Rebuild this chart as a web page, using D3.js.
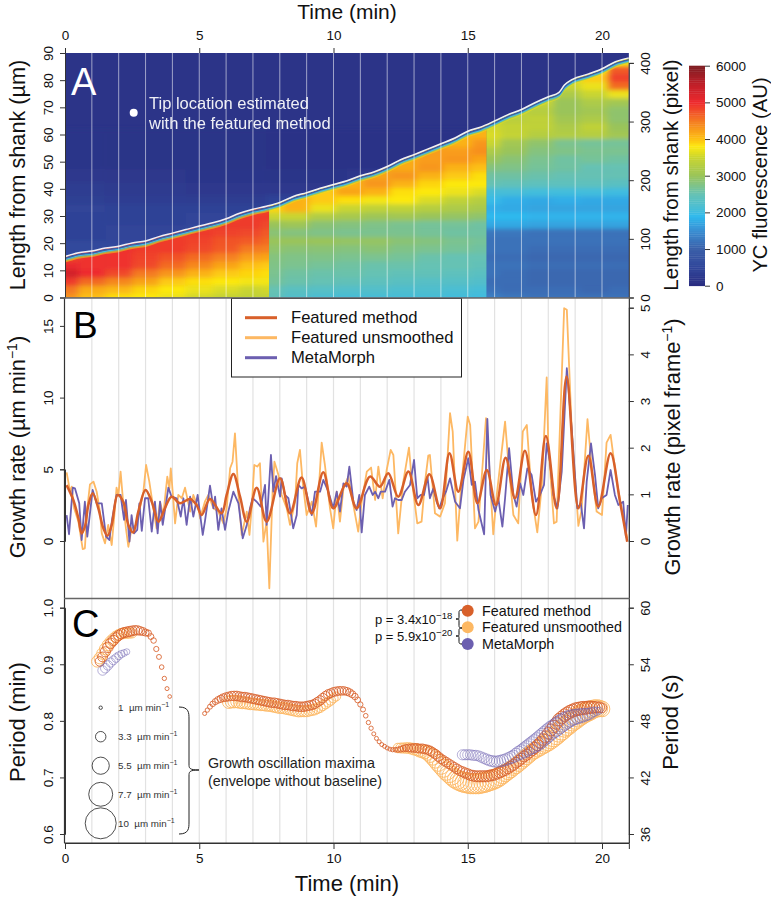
<!DOCTYPE html>
<html><head><meta charset="utf-8">
<script src="https://cdn.jsdelivr.net/npm/d3@7"></script>
<style>html,body{margin:0;background:#fff}svg{display:block;font-family:"Liberation Sans",Arial,sans-serif}</style>
</head><body><svg id="c" width="771" height="898"></svg>
<script>
// ---------- Panel A data ----------
const tipTime=[0,.5,1,1.5,2,2.5,3,3.5,4,4.5,5,5.5,6,6.5,7,7.5,8,8.5,9,9.5,10,10.5,11,11.5,12,12.5,13,13.5,14,14.5,15,15.5,16,16.5,17,17.5,18,18.4,18.6,18.9,19.5,20,20.5,21];
const tipLength=[15.1,16.5,17.1,18.2,18.9,20.1,20.8,22.4,23.7,25,26.3,27.5,29,31,32.5,33.6,35,37.2,38.6,40.2,41.6,43,44.8,46.2,48.2,50.7,52.6,54.6,56.6,58.6,61.2,62.8,65,67.3,69.2,71.7,73.9,75.5,78.2,80.3,82.3,84.2,86.8,88.2];
const colorStops=[0,500,1000,1500,1900,2000,2500,3000,3500,3800,4000,4500,5000,5500,6000];
const colorRamp=["#2a2c80","#30469a","#3a5fa8","#3a8ed2","#2eb9ee","#3fbce0","#66c2b4","#9ac45a","#c9d530","#fde910","#fdc012","#f47a22","#ee2a2e","#bf1e28","#7d1d22"];
const rowStep=3;
const earlyTimes=[0,1,2,3,4,5,6,7,7.6];
const earlyValues=[
[4300,4000,3850,3800,3700,3550,3450,3400,3400],
[4500,4150,4050,3900,3800,3700,3600,3500,3550],
[4900,4600,4400,4200,3950,3850,3800,3750,3750],
[5300,5000,4800,4500,4300,4100,3950,3900,3850],
[5050,4950,4950,4800,4600,4400,4200,4000,3950],
[4800,4950,4950,4850,4750,4600,4450,4250,4200],
[null,4950,4950,4900,4900,4800,4700,4500,4450],
[null,null,null,4900,4900,4850,4750,4700,4600],
[null,null,null,null,4800,4900,4850,4800,4700],
[null,null,null,null,null,4800,4900,4900,4800],
[null,null,null,null,null,null,4800,4900,4900],
[null,null,null,null,null,null,null,4700,4800]];
const midTimes=[7.6,8.6,9.6,10.6,11.6,12.6,13.6,14.6,15.7];
const midValues=[
[2450,2250,2150,2100,2100,2100,2100,2050,2000],
[2500,2350,2300,2250,2250,2200,2200,2150,2100],
[2650,2550,2500,2450,2400,2350,2300,2300,2250],
[2700,2600,2550,2550,2500,2450,2450,2400,2350],
[2750,2700,2650,2600,2550,2550,2500,2500,2450],
[2800,2750,2750,2700,2700,2650,2550,2500,2500],
[2900,2850,2850,2800,2850,2750,2700,2650,2600],
[3000,3000,3000,2950,2950,2850,2800,2700,2650],
[2850,2800,2750,2700,2700,2700,2650,2600,2600],
[3000,3050,2850,2800,2750,2700,2650,2650,2600],
[3500,3500,3250,3150,3050,3100,3000,2950,2900],
[3900,4100,3700,3500,3400,3400,3300,3200,3150],
[null,4100,3950,3850,3750,3800,3600,3400,3300],
[null,null,3950,4200,4100,3850,3800,3700,3600],
[null,null,null,4100,4300,4100,3900,3800,3800],
[null,null,null,null,4200,4300,4100,3950,3850],
[null,null,null,null,null,4150,4300,4100,4000],
[null,null,null,null,null,null,4250,4300,4200],
[null,null,null,null,null,null,null,4250,4350],
[null,null,null,null,null,null,null,4100,4300],
[null,null,null,null,null,null,null,null,4100]];
const lateTimes=[15.7,16.7,17.7,18.7,19.7,20.7];
const lateValues=[
[1350,1250,1200,1200,1200,1200],
[1200,1150,1150,1150,1100,1150],
[1150,1150,1100,1100,1100,1100],
[1200,1150,1100,1100,1100,1100],
[1200,1200,1150,1150,1150,1150],
[1150,1150,1100,1100,1100,1100],
[1200,1200,1150,1150,1150,1150],
[1200,1200,1200,1200,1200,1200],
[1250,1250,1200,1200,1200,1200],
[1750,1750,1700,1700,1700,1700],
[1900,1900,1850,1850,1850,1850],
[1800,1750,1700,1700,1700,1700],
[1950,1800,1750,1800,1750,1750],
[2100,2100,2050,2050,2050,2000],
[2500,2450,2400,2400,2400,2350],
[2600,2600,2550,2500,2500,2500],
[2800,2750,2650,2600,2500,2500],
[3000,2850,2700,2600,2650,2600],
[3200,3000,2800,2750,2700,2700],
[3500,3100,2900,2700,2650,2650],
[3600,3450,3300,3250,3300,3100],
[3550,3450,3400,3200,3400,3000],
[null,3350,3400,3100,3200,2900],
[null,3450,3300,3000,3100,2900],
[null,null,3450,3000,3200,3100],
[null,null,3550,3200,3500,3700],
[null,null,3650,3500,3700,4600],
[null,null,null,3650,3950,4850],
[null,null,null,3750,3800,4700],
[null,null,null,null,3550,3800]];
const haloTimes=[0,3,6,9,12,21];
const haloRows=[12,18,24,30,33,36,40,45,50];
const haloValues=[
[600,600,600,600,600,600],
[560,560,600,600,600,600],
[450,480,560,600,600,600],
[440,430,480,560,600,600],
[470,430,420,500,600,600],
[370,340,320,420,540,600],
[320,290,250,250,400,500],
[250,230,200,170,240,300],
[170,160,150,140,140,150]];
const colorbarTicks=[0,1000,2000,3000,4000,5000,6000];
const tipLegendLines=["Tip location estimated","with the featured method"];

// ---------- Panel B data ----------
const smoothTime=[.06,.31,.5,.62,.74,.87,1.03,1.24,1.43,1.58,1.74,1.96,2.17,2.36,2.54,2.73,3,3.23,3.48,3.72,3.97,4.28,4.66,4.9,5.09,5.4,5.83,6.02,6.27,6.52,6.77,7.14,7.51,8.01,8.38,8.81,9.19,9.62,9.99,10.49,10.86,11.36,11.73,12.04,12.41,12.79,13.16,13.57,13.97,14.32,14.65,15.02,15.36,15.71,16.05,16.41,16.76,17.13,17.54,17.91,18.31,18.68,19.12,19.49,19.86,20.32,20.67,20.94];
const smoothRate=[3.9,2.86,1.58,.53,1,2.5,3.33,2.28,.88,.37,1.12,3.21,2.74,1.12,.6,2.05,3.56,2.74,1.35,2.28,3.09,2.63,2.93,2.51,1.81,2.93,1.93,3.21,4.67,3.09,1.35,3.72,1.35,4.37,1.93,4.42,1.93,4.79,2.28,4.02,2.28,4.49,3.79,4.72,3.09,4.84,2.51,4.65,2.28,6.12,3.44,6.23,2.63,4.95,2.51,5.81,2.98,6.3,1.81,7.33,2.28,11.47,2.28,5.95,2.4,6.12,2.74,-.05];
const rawTime=[.06,.19,.25,.34,.5,.66,.74,.83,.93,1.06,1.18,1.3,1.37,1.49,1.61,1.74,1.86,1.92,1.99,2.07,2.17,2.27,2.36,2.48,2.64,2.79,2.92,3.02,3.14,3.29,3.41,3.54,3.66,3.81,3.89,3.94,4.03,4.1,4.22,4.35,4.47,4.66,4.78,4.97,5.03,5.21,5.34,5.53,5.71,5.9,6.02,6.15,6.24,6.33,6.46,6.58,6.77,6.87,6.95,7.05,7.16,7.26,7.39,7.51,7.61,7.73,7.8,7.95,8.07,8.26,8.38,8.57,8.65,8.75,8.85,9,9.19,9.35,9.47,9.56,9.68,9.87,9.99,10.12,10.24,10.37,10.55,10.74,10.92,11.05,11.24,11.4,11.55,11.67,11.83,11.98,12.13,12.23,12.41,12.6,12.81,12.91,13.12,13.28,13.41,13.53,13.59,13.78,13.97,14.15,14.34,14.44,14.61,14.74,15,15.09,15.27,15.4,15.68,15.79,15.95,16.08,16.39,16.51,16.7,16.88,17.05,17.2,17.38,17.59,17.76,17.94,18,18.21,18.31,18.59,18.69,18.87,19.12,19.24,19.46,19.62,19.8,20,20.17,20.32,20.55,20.73,20.94];
const rawRate=[4.79,3.44,3.79,2.28,1.35,-.56,-.51,2.28,3.95,4.14,3.44,2.05,.53,-.16,1.12,-.28,2.28,3.72,3.21,4.84,2.63,.88,-.4,.88,1.12,2.28,3.44,5.3,4.14,2.28,.88,2.74,1.81,4.49,3.67,5.07,2.98,1.23,3.21,2.98,3.72,2.05,3.21,2.28,1.58,2.74,3.21,2.28,2.05,1.23,2.28,5.07,5.53,7.51,3.21,.42,2.05,.42,2.28,5.3,5.19,5.42,-.05,1.35,-3.3,3.44,5.53,4.6,3.21,2.28,1.12,2.74,5.42,6.35,4.14,1.81,2.74,1,4.14,6.86,5.3,2.28,.88,3.44,1.35,3.67,4.49,2.51,.65,2.74,4.84,5.12,2.86,5.19,2.98,4.95,6.35,6,.53,4.14,6.51,4.37,1.23,1.35,4.14,5.95,6,1.93,1.7,2.63,8.91,7.63,.02,3.44,8.67,8.09,.88,1.35,8.56,5.53,.47,3.21,8.33,5.53,1.81,1.23,7.63,8.09,3.21,.6,3.91,11.4,6.7,1.23,1.35,16.23,16.12,7.86,1.05,2.16,8.49,5.07,2.05,1.81,6.86,7.4,4.14,2.28,.19];
const metaTime=[.06,.15,.29,.37,.53,.62,.74,.83,1.03,1.18,1.37,1.53,1.65,1.76,1.92,2.07,2.2,2.27,2.4,2.48,2.57,2.69,2.77,2.86,2.98,3.1,3.23,3.35,3.45,3.54,3.64,3.85,3.97,4.16,4.31,4.41,4.53,4.66,4.78,4.94,5.13,5.21,5.4,5.53,5.59,5.71,5.83,5.96,6.08,6.27,6.46,6.62,6.77,6.89,6.99,7.14,7.29,7.45,7.51,7.67,7.76,7.86,8.01,8.07,8.19,8.32,8.5,8.63,8.69,8.81,8.94,9.07,9.19,9.31,9.5,9.62,9.81,9.99,10.12,10.24,10.37,10.49,10.59,10.74,10.86,10.96,11.05,11.17,11.33,11.46,11.55,11.67,11.76,11.92,12.08,12.2,12.29,12.41,12.54,12.66,12.85,13,13.12,13.25,13.37,13.5,13.59,13.72,13.84,13.94,14.07,14.19,14.34,14.53,14.71,14.84,15.02,15.15,15.27,15.4,15.61,15.73,15.85,16.02,16.14,16.29,16.39,16.54,16.7,16.82,16.95,17.07,17.22,17.38,17.54,17.69,17.84,17.94,18.06,18.19,18.34,18.5,18.69,18.87,19.08,19.21,19.33,19.43,19.59,19.74,19.86,19.99,20.17,20.32,20.48,20.61,20.79,20.89,20.96];
const metaRate=[1.81,.47,3.72,3.67,2.63,.07,2.74,.3,3.56,2.63,2.63,.3,.07,1.58,3.21,3.21,1.47,2.86,-.05,1.81,.53,.77,2.63,.7,2.98,2.98,.65,2.74,.53,2.74,1.12,3.72,3.09,2.98,1.7,2.98,1.12,3.09,1.7,3.21,.42,1.35,3.86,2.28,3.09,.77,2.28,.77,2.05,3.44,2.63,.19,1.12,2.28,2.98,2.74,2.4,3.91,1.12,6,3.44,4.53,3.09,4.37,3.21,2.98,.88,1.81,3.91,3.67,3.79,2.74,1.81,3.44,3.44,4.26,3.44,2.28,3.44,2.05,4.02,3.79,5.19,2.74,2.16,3.21,.6,3.21,3.79,3.21,3.44,2.98,3.44,3.44,4.26,2.4,2.98,2.86,2.86,3.44,3.91,5.65,2.98,3.21,3.21,4.49,2.98,3.67,2.74,2.28,2.98,3.44,4.37,2.74,2.28,4.26,5.77,3.91,4.14,2.16,.47,8.51,3.21,2.05,2.98,1,2.98,6.47,3.21,2.4,4.02,3.21,5.07,4.6,2.74,3.21,3.91,6.81,5.53,3.21,2.28,4.84,12.05,7.86,2.28,2.63,.88,4.14,6.81,4.6,2.28,2.98,3.21,4.95,3.21,2.51,2.74,.3,2.51];
const legendB=["Featured method","Featured unsmoothed","MetaMorph"];

// ---------- Panel C data (one value every 0.1 min from each start time) ----------
const featStart1=1.3;
const featPeriod1=[.905,.913,.922,.93,.937,.942,.947,.951,.954,.956,.957,.958,.959,.96,.96,.959,.958,.956,.955,.949,.942,.927,.913,.895,.875,.857,.843];
const featAmp1=[3,3.1,3.2,3.3,3.3,3.3,3.2,3.2,3.2,3.2,3.2,3.2,3.1,3,2.9,2.7,2.5,2.2,2,1.8,1.7,1.6,1.5,1.4,1.3,1.2,1.1];
const featStart2=5.2;
const featPeriod2=[.813,.819,.825,.83,.834,.837,.839,.841,.842,.843,.844,.844,.844,.843,.842,.842,.841,.84,.839,.838,.837,.836,.835,.834,.833,.832,.832,.831,.83,.829,.828,.828,.827,.826,.826,.825,.825,.825,.826,.827,.828,.83,.833,.836,.84,.844,.847,.849,.851,.852,.853,.853,.853,.852,.85,.847,.843,.837,.829,.82,.809,.797,.787,.777,.769,.763,.758,.755,.752,.75,.749,.749,.749,.75,.751,.752,.752,.752,.752,.752,.751,.751,.75,.749,.747,.744,.741,.737,.733,.73,.727,.724,.721,.718,.715,.712,.71,.708,.706,.704,.703,.702,.702,.702,.702,.702,.703,.704,.705,.707,.709,.711,.713,.716,.719,.722,.726,.729,.733,.737,.74,.744,.748,.752,.757,.762,.767,.772,.778,.784,.79,.796,.802,.806,.81,.813,.816,.818,.82,.821,.822,.823,.823,.824,.824,.824,.824,.824,.823];
const featAmp2=[1.2,1.3,1.5,1.7,1.9,2.1,2.3,2.5,2.7,2.8,2.9,3,3,3,3,3,3,3,3,3,3,3,3,3,3,3,3,3,3,3,3,3,3,3,3,3,3,3,3,3,3,3,3,3,3,2.9,2.9,2.8,2.8,2.8,2.7,2.7,2.6,2.5,2.4,2.2,2,1.8,1.6,1.5,1.4,1.3,1.3,1.2,1.2,1.2,1.2,1.2,1.2,1.2,1.3,1.4,1.6,1.8,2,2.2,2.4,2.6,2.7,2.8,2.8,2.9,2.9,2.9,3,3,3,3,3,3,3,3,3,3,3.1,3.1,3.2,3.2,3.3,3.3,3.4,3.4,3.5,3.5,3.5,3.5,3.5,3.5,3.5,3.5,3.5,3.4,3.4,3.4,3.4,3.4,3.4,3.4,3.4,3.4,3.4,3.4,3.5,3.5,3.5,3.6,3.6,3.7,3.7,3.8,3.9,3.9,4,4,4,4.1,4.1,4.1,4.2,4.2,4.2,4.1,4.1,4,3.9,3.7,3.5,3.3,3];
const rawStart1=1.2;
const rawPeriod1=[.905,.911,.919,.927,.934,.94,.945,.949,.952,.954,.955,.955,.955,.955];
const rawAmp1=[3.6,3.7,3.7,3.7,3.7,3.6,3.5,3.5,3.4,3.4,3.3,3.3,3.2,3];
const rawStart2=6.1;
const rawPeriod2=[.833,.834,.834,.834,.833,.832,.832,.831,.83,.83,.829,.829,.828,.828,.827,.827,.826,.825,.824,.823,.823,.822,.821,.82,.819,.818,.817,.817,.817,.817,.818,.819,.82,.822,.824,.827,.83,.833,.836,.84,.843];
const rawAmp2=[4,4,4,3.9,3.9,3.8,3.8,3.7,3.7,3.7,3.6,3.6,3.6,3.6,3.6,3.6,3.6,3.6,3.6,3.6,3.6,3.6,3.6,3.6,3.6,3.6,3.6,3.5,3.5,3.5,3.4,3.4,3.4,3.3,3.3,3.2,3.2,3.1,3,2.9,2.8];
const rawStart3=12.4;
const rawPeriod3=[.752,.752,.752,.752,.752,.751,.75,.749,.747,.746,.745,.743,.74,.736,.731,.726,.721,.716,.711,.707,.703,.699,.696,.694,.692,.691,.69,.689,.689,.689,.689,.69,.691,.692,.694,.695,.697,.699,.702,.705,.708,.711,.714,.718,.721,.725,.729,.733,.737,.741,.745,.748,.751,.754,.757,.76,.763,.767,.771,.775,.78,.784,.789,.792,.796,.8,.803,.807,.81,.813,.815,.817,.819,.821,.822,.822,.821];
const rawAmp3=[3,3.1,3.2,3.3,3.4,3.5,3.7,3.8,3.9,4.1,4.3,4.6,4.9,5.2,5.3,5.5,5.6,5.7,5.8,5.9,6,6.1,6.2,6.3,6.4,6.5,6.5,6.5,6.5,6.5,6.5,6.5,6.5,6.4,6.4,6.3,6.2,6.1,6,5.8,5.6,5.4,5.3,5.2,5.2,5.2,5.2,5.2,5.2,5.2,5.2,5.3,5.4,5.5,5.6,5.7,5.8,6,6.1,6.2,6.4,6.5,6.5,6.5,6.5,6.5,6.5,6.5,6.5,6.4,6.3,6.2,6,5.8,5.6,5.3,5];
const metaStart1=1.4;
const metaPeriod1=[.889,.893,.898,.903,.907,.911,.915,.918,.92,.922];
const metaAmp1=[3,3,3,2.9,2.8,2.7,2.5,2.3,2.1,1.9];
const metaStart2=14.8;
const metaPeriod2=[.74,.74,.74,.74,.739,.739,.738,.736,.734,.732,.73,.729,.728,.728,.729,.73,.731,.733,.735,.737,.74,.743,.745,.748,.751,.754,.757,.76,.763,.767,.771,.775,.779,.783,.786,.789,.793,.796,.799,.802,.804,.806,.807,.808,.809,.81,.811,.812,.814,.816,.817,.818];
const metaAmp2=[3.2,3.2,3.2,3.2,3.2,3.2,3.2,3.3,3.3,3.4,3.4,3.5,3.5,3.6,3.6,3.7,3.8,3.8,3.9,4,4.2,4.4,4.6,4.8,5,5.2,5.4,5.6,5.8,5.8,5.8,5.8,5.8,5.8,5.8,5.8,5.8,5.7,5.6,5.5,5.3,5.1,4.9,4.7,4.5,4.3,4,3.7,3.4,3,2.6,2.2];
const sizeLegend=[1,3.3,5.5,7.7,10];
const sizeLegendLabel=["1  µm min","3.3  µm min","5.5  µm min","7.7  µm min","10  µm min"];
const pValues=[["p = 3.4x10","−18"],["p = 5.9x10","−20"]];
const xTicks=[0,5,10,15,20];
const minuteLines=d3.range(0,21);

// ---------- Scales ----------
const W=26.85, X0=65;
const x=d3.scaleLinear().domain([0,21]).range([X0,X0+21*W]);
const yA=d3.scaleLinear().domain([0,90]).range([297.5,53]);
const yApx=d3.scaleLinear().domain([0,400]).range([297.5,62.9]);
const yB=d3.scaleLinear().domain([0,5]).range([541,469.3]);
const yBpx=d3.scaleLinear().domain([0,5]).range([541,307.7]);
const yC=d3.scaleLinear().domain([.6,1]).range([834,607.7]);
const yCs=d3.scaleLinear().domain([36,60]).range([834,607.7]);
const color=d3.scaleLinear().domain(colorStops).range(colorRamp).clamp(true);
const cbar=d3.scaleLinear().domain([0,6000]).range([285.7,65.7]);
const rScale=d3.scaleLinear().domain([1,10]).range([1.7,15.5]);
const cFeat="#d8602a",cRaw="#fdb863",cMeta="#6c5fb0",axisC="#333";

const svg=d3.select("#c");
const defs=svg.append("defs");
defs.append("filter").attr("id","blur").attr("filterUnits","userSpaceOnUse").attr("x",-100).attr("y",-100).attr("width",1000).attr("height",600)
  .append("feGaussianBlur").attr("stdDeviation","3.5 2");
const panelLeft=x(0),panelRight=x(21);

// ---------- Panel A ----------
const gA=svg.append("g");
gA.append("rect").attr("x",panelLeft).attr("y",yA(90)).attr("width",panelRight-panelLeft).attr("height",yA(0)-yA(90)).attr("fill",color(150));
defs.append("clipPath").attr("id","clipA").append("rect").attr("x",panelLeft).attr("y",yA(90)).attr("width",panelRight-panelLeft).attr("height",yA(0)-yA(90));
const tipPts=tipTime.map((t,i)=>[t,tipLength[i]]);
const tipLine=d3.line().x(d=>x(d[0])).y(d=>yA(d[1])).curve(d3.curveMonotoneX);
const tipArea=d3.area().x(d=>x(d[0])).y0(yA(-20)).y1(d=>yA(d[1])).curve(d3.curveMonotoneX);
defs.append("clipPath").attr("id","clipTip").append("path").attr("d",tipArea(tipPts));

function drawGrid(parent,times,rowVals,values){
  const g=parent.append("g").attr("filter","url(#blur)");
  const cols=times.length;
  const filled=values.map(r=>r.slice());
  for(let r=1;r<filled.length;r++)for(let c=0;c<cols;c++) if(filled[r][c]==null) filled[r][c]=filled[r-1][c];
  const cells=[];
  filled.forEach((row,r)=>row.forEach((v,c)=>{
    const tl=c?(times[c-1]+times[c])/2:times[0]-4;
    const tr=c<cols-1?(times[c]+times[c+1])/2:times[c]+4;
    const rl=r?(rowVals[r-1]+rowVals[r])/2:rowVals[0]-12;
    const rt=r<filled.length-1?(rowVals[r]+rowVals[r+1])/2:rowVals[r]+12;
    cells.push({tl,tr,rl,rt,v});
  }));
  g.selectAll("rect").data(cells).join("rect")
    .attr("x",d=>x(d.tl)).attr("width",d=>x(d.tr)-x(d.tl)+.5)
    .attr("y",d=>yA(d.rt)).attr("height",d=>yA(d.rl)-yA(d.rt)+.5)
    .attr("fill",d=>color(d.v));
}
const inA=gA.append("g").attr("clip-path","url(#clipA)");
drawGrid(inA,haloTimes,haloRows,haloValues);
function regime(t0,t1,times,values){
  const id="reg"+String(t0).replace(".","_");
  defs.append("clipPath").attr("id",id).append("rect").attr("x",x(t0)).attr("y",0).attr("width",x(t1)-x(t0)+.3).attr("height",400);
  const g=inA.append("g").attr("clip-path",`url(#${id})`).append("g").attr("clip-path","url(#clipTip)");
  drawGrid(g,times,values.map((_,i)=>i*rowStep),values);
}
regime(0,7.6,earlyTimes,earlyValues);
regime(7.6,15.7,midTimes,midValues);
regime(15.7,21,lateTimes,lateValues);
// falloff of fluorescence just behind the tip
[[5.2,3700,.5,1.6],[4.2,3000,.8,1.4],[3.1,2000,1,1.5],[1.8,1000,1,1.6]].forEach(([dy,val,op,w])=>{
  inA.append("path").attr("d",tipLine(tipPts)).attr("transform",`translate(0,${dy})`)
    .attr("fill","none").attr("stroke",color(val)).attr("stroke-opacity",op).attr("stroke-width",w);
});
inA.append("path").attr("d",tipLine(tipPts)).attr("fill","none").attr("stroke","#eef0f8").attr("stroke-width",1.5);
gA.selectAll("line.m").data(minuteLines.slice(1)).join("line").attr("class","m")
  .attr("x1",d=>x(d)).attr("x2",d=>x(d)).attr("y1",yA(90)).attr("y2",yA(0))
  .attr("stroke","#fff").attr("stroke-opacity",.55).attr("stroke-width",1);
gA.append("circle").attr("cx",133.7).attr("cy",112.7).attr("r",4).attr("fill","#fff");
gA.selectAll("text.t").data(tipLegendLines).join("text").attr("class","t")
  .attr("x",149).attr("y",(d,i)=>109+i*20).attr("font-size",16.5).attr("fill","#fff").attr("opacity",.92).text(d=>d);
svg.append("text").attr("x",71).attr("y",95).attr("font-size",38).attr("fill","#fff").text("A");

// ---------- Panel B/C gridlines ----------
[[298.5,598],[599,843]].forEach(([a,b])=>{
  svg.append("g").selectAll("line").data(minuteLines.slice(1)).join("line")
    .attr("x1",d=>x(d)).attr("x2",d=>x(d)).attr("y1",a).attr("y2",b)
    .attr("stroke","#e2e2e2").attr("stroke-width",1.2);
});

// ---------- Panel B ----------
const lineB=d3.line().x(d=>x(d[0])).y(d=>yB(d[1]));
const zip=(a,b)=>a.map((v,i)=>[v,b[i]]);
svg.append("path").attr("d",lineB(zip(rawTime,rawRate))).attr("fill","none").attr("stroke",cRaw).attr("stroke-width",1.8).attr("stroke-linejoin","round");
svg.append("path").attr("d",lineB(zip(metaTime,metaRate))).attr("fill","none").attr("stroke",cMeta).attr("stroke-width",1.8).attr("stroke-linejoin","round");
svg.append("path").attr("d",lineB.curve(d3.curveCatmullRom)(zip(smoothTime,smoothRate))).attr("fill","none").attr("stroke",cFeat).attr("stroke-width",2.5);
svg.append("rect").attr("x",231.5).attr("y",298.5).attr("width",230).attr("height",78.5).attr("fill","#fff").attr("stroke","#222").attr("stroke-width",1);
legendB.forEach((s,i)=>{
  const yy=317.7+i*20;
  svg.append("line").attr("x1",245).attr("x2",277).attr("y1",yy).attr("y2",yy).attr("stroke",[cFeat,cRaw,cMeta][i]).attr("stroke-width",3);
  svg.append("text").attr("x",291).attr("y",yy+5.6).attr("font-size",16.6).attr("fill","#111").text(s);
});
svg.append("text").attr("x",73).attr("y",338).attr("font-size",37).attr("fill","#000").text("B");

// ---------- Panel C ----------
const gC=svg.append("g");
function rings(start,period,amp,col,op,sw){
  gC.append("g").selectAll("circle").data(period.map((p,i)=>({t:start+i*.1,p,a:amp[i]}))).join("circle")
    .attr("cx",d=>x(d.t)).attr("cy",d=>yC(d.p)).attr("r",d=>rScale(d.a))
    .attr("fill","none").attr("stroke",col).attr("stroke-opacity",op).attr("stroke-width",sw);
}
rings(rawStart1,rawPeriod1,rawAmp1,cRaw,1,.9);
rings(rawStart2,rawPeriod2,rawAmp2,cRaw,1,.9);
rings(rawStart3,rawPeriod3,rawAmp3,cRaw,1,.9);
rings(featStart1,featPeriod1,featAmp1,cFeat,1,.85);
rings(featStart2,featPeriod2,featAmp2,cFeat,1,.85);
rings(metaStart1,metaPeriod1,metaAmp1,cMeta,.7,.7);
rings(metaStart2,metaPeriod2,metaAmp2,cMeta,.7,.7);
const legY=[610.7,627.3,644];
legendB.forEach((s,i)=>{
  svg.append("circle").attr("cx",467.7).attr("cy",legY[i]).attr("r",6).attr("fill",[cFeat,cRaw,cMeta][i]);
  svg.append("text").attr("x",482).attr("y",legY[i]+5).attr("font-size",14.3).attr("fill","#111").text(s);
});
pValues.forEach((p,i)=>{
  const t=svg.append("text").attr("x",375).attr("y",624.3+i*16.7).attr("font-size",13).attr("fill","#111");
  t.append("tspan").text(p[0]);
  t.append("tspan").attr("dy",-5).attr("font-size",9.5).text(p[1]);
});
function brace(xa,xb,y0,ym,y1){ // vertical curly brace from y0 to y1 with tip at ym
  const xm=(xa+xb)/2;
  return `M${xa},${y0}C${xm},${y0} ${xm},${y0+6} ${xm},${y0+12}L${xm},${ym-6}C${xm},${ym-2} ${xm},${ym} ${xb},${ym}C${xm},${ym} ${xm},${ym+2} ${xm},${ym+6}L${xm},${y1-12}C${xm},${y1-6} ${xm},${y1} ${xa},${y1}`;
}
svg.append("path").attr("d",brace(179,199,707,770,834)).attr("fill","none").attr("stroke","#222").attr("stroke-width",1);
const small=(xa,xb,y0,ym,y1)=>{const xm=(xa+xb)/2;return `M${xa},${y0}C${xm},${y0} ${xm},${y0+1} ${xm},${y0+3}L${xm},${ym-2}C${xm},${ym} ${xm},${ym} ${xb},${ym}C${xm},${ym} ${xm},${ym} ${xm},${ym+2}L${xm},${y1-3}C${xm},${y1-1} ${xm},${y1} ${xa},${y1}`};
svg.append("path").attr("d",small(462,456,610,619,628)).attr("fill","none").attr("stroke","#111").attr("stroke-width",1);
svg.append("path").attr("d",small(462,456,628,636,644)).attr("fill","none").attr("stroke","#111").attr("stroke-width",1);
sizeLegend.forEach((v,i)=>{
  const yy=[707.7,736.7,765.7,794.3,823.3][i];
  svg.append("circle").attr("cx",100.7).attr("cy",yy).attr("r",rScale(v)).attr("fill","none").attr("stroke","#222").attr("stroke-width",.8);
  const t=svg.append("text").attr("x",118).attr("y",yy+3.5).attr("font-size",9.8).attr("fill","#333").style("white-space","pre");
  t.append("tspan").text(sizeLegendLabel[i]);
  t.append("tspan").attr("dy",-4).attr("font-size",7).text("−1");
});
svg.append("text").attr("x",208).attr("y",768).attr("font-size",14.3).attr("fill","#222").text("Growth oscillation maxima");
svg.append("text").attr("x",208).attr("y",785.7).attr("font-size",14.3).attr("fill","#222").text("(envelope without baseline)");
svg.append("text").attr("x",72).attr("y",637).attr("font-size",38).attr("fill","#000").text("C");

// ---------- Axes ----------
function styleAxis(g,rotate,offset){
  g.selectAll("line").attr("stroke",axisC).attr("stroke-width",1);
  g.select(".domain").attr("stroke",axisC).attr("stroke-width",1);
  g.selectAll("text").attr("font-size",13.5).attr("fill","#111").style("font-family",'"Liberation Sans",Arial,sans-serif');
  if(rotate) g.selectAll("text").attr("transform","rotate(-90)").attr("x",0).attr("dy",0).attr("y",offset).attr("text-anchor","middle");
}
const put=(a,tx,ty)=>svg.append("g").attr("transform",`translate(${tx||0},${ty||0})`).call(a);
const intFmt=d3.format("d");
let ax;
ax=put(d3.axisTop(x).tickValues(xTicks).tickSizeOuter(0).tickSize(5).tickFormat(intFmt),0,53);ax.select(".domain").remove();styleAxis(ax);ax.selectAll("text").attr("y",-13);
ax=put(d3.axisBottom(x).tickValues(xTicks).tickSizeOuter(0).tickSize(6).tickFormat(intFmt),0,843);styleAxis(ax);ax.selectAll("text").attr("y",10.5);
ax=put(d3.axisLeft(yA).tickValues(d3.range(0,91,10)).tickSizeOuter(0).tickSize(5).tickFormat(intFmt),X0,0);styleAxis(ax,true,-12);
ax=put(d3.axisRight(yApx).tickValues(d3.range(0,401,100)).tickSizeOuter(0).tickSize(5).tickFormat(intFmt),x(21),0);styleAxis(ax,true,21);
ax=put(d3.axisLeft(yB).tickValues([0,5,10,15]).tickSizeOuter(0).tickSize(5).tickFormat(intFmt),X0,0);styleAxis(ax,true,-12);
ax=put(d3.axisRight(yBpx).tickValues([0,1,2,3,4,5]).tickSizeOuter(0).tickSize(5).tickFormat(intFmt),x(21),0);styleAxis(ax,true,21);
ax=put(d3.axisLeft(yC).tickValues([.6,.7,.8,.9,1]).tickFormat(d3.format(".1f")).tickSizeOuter(0).tickSize(5),X0,0);styleAxis(ax,true,-12);
ax=put(d3.axisRight(yCs).tickValues([36,42,48,54,60]).tickSizeOuter(0).tickSize(5).tickFormat(intFmt),x(21),0);styleAxis(ax,true,21);
// frame
[[X0-.5,298,X0-.5,843],[x(21)+.5,298,x(21)+.5,843],[X0-1,843,x(21)+1,843],[X0-1,298,x(21)+1,298],[X0-1,598.5,x(21)+1,598.5]].forEach(([a,b,c,d],i)=>{
  svg.append("line").attr("x1",a).attr("y1",b).attr("x2",c).attr("y2",d).attr("stroke",i>2?"#666":axisC).attr("stroke-width",i>2?1.3:1.2);
});

// ---------- Colour bar ----------
const cb=svg.append("g");
cb.selectAll("rect").data(d3.range(0,6000,50)).join("rect")
  .attr("x",689).attr("width",16).attr("y",d=>cbar(d+50)).attr("height",d=>cbar(d)-cbar(d+50)+.4).attr("fill",d=>color(d+25));
ax=put(d3.axisRight(cbar).tickValues(colorbarTicks).tickFormat(d3.format("d")).tickSizeOuter(0).tickSize(5),705,0);
styleAxis(ax);ax.select(".domain").remove();ax.selectAll("text").attr("x",11);

// ---------- Titles ----------
function vtitle(px,py,size,parts){
  const t=svg.append("text").attr("transform",`translate(${px},${py}) rotate(-90)`).attr("text-anchor","middle").attr("font-size",size).attr("fill","#111");
  parts.forEach(p=>{const s=t.append("tspan").text(p.t); if(p.sup){s.attr("dy",-8).attr("font-size",14);} else if(p.back){s.attr("dy",8);} });
}
svg.append("text").attr("x",347).attr("y",19).attr("text-anchor","middle").attr("font-size",21).attr("fill","#111").text("Time (min)");
svg.append("text").attr("x",347).attr("y",891).attr("text-anchor","middle").attr("font-size",22).attr("fill","#111").text("Time (min)");
vtitle(25,175,21.7,[{t:"Length from shank (µm)"}]);
vtitle(678,175,20.5,[{t:"Length from shank (pixel)"}]);
vtitle(767,175,20.2,[{t:"YC fluorescence (AU)"}]);
vtitle(25,447,21.8,[{t:"Growth rate (µm min"},{t:"−1",sup:1},{t:")",back:1}]);
vtitle(680,447,21.8,[{t:"Growth rate (pixel frame"},{t:"−1",sup:1},{t:")",back:1}]);
vtitle(25,722,22,[{t:"Period (min)"}]);
vtitle(678,722,22,[{t:"Period (s)"}]);
</script></body></html>
